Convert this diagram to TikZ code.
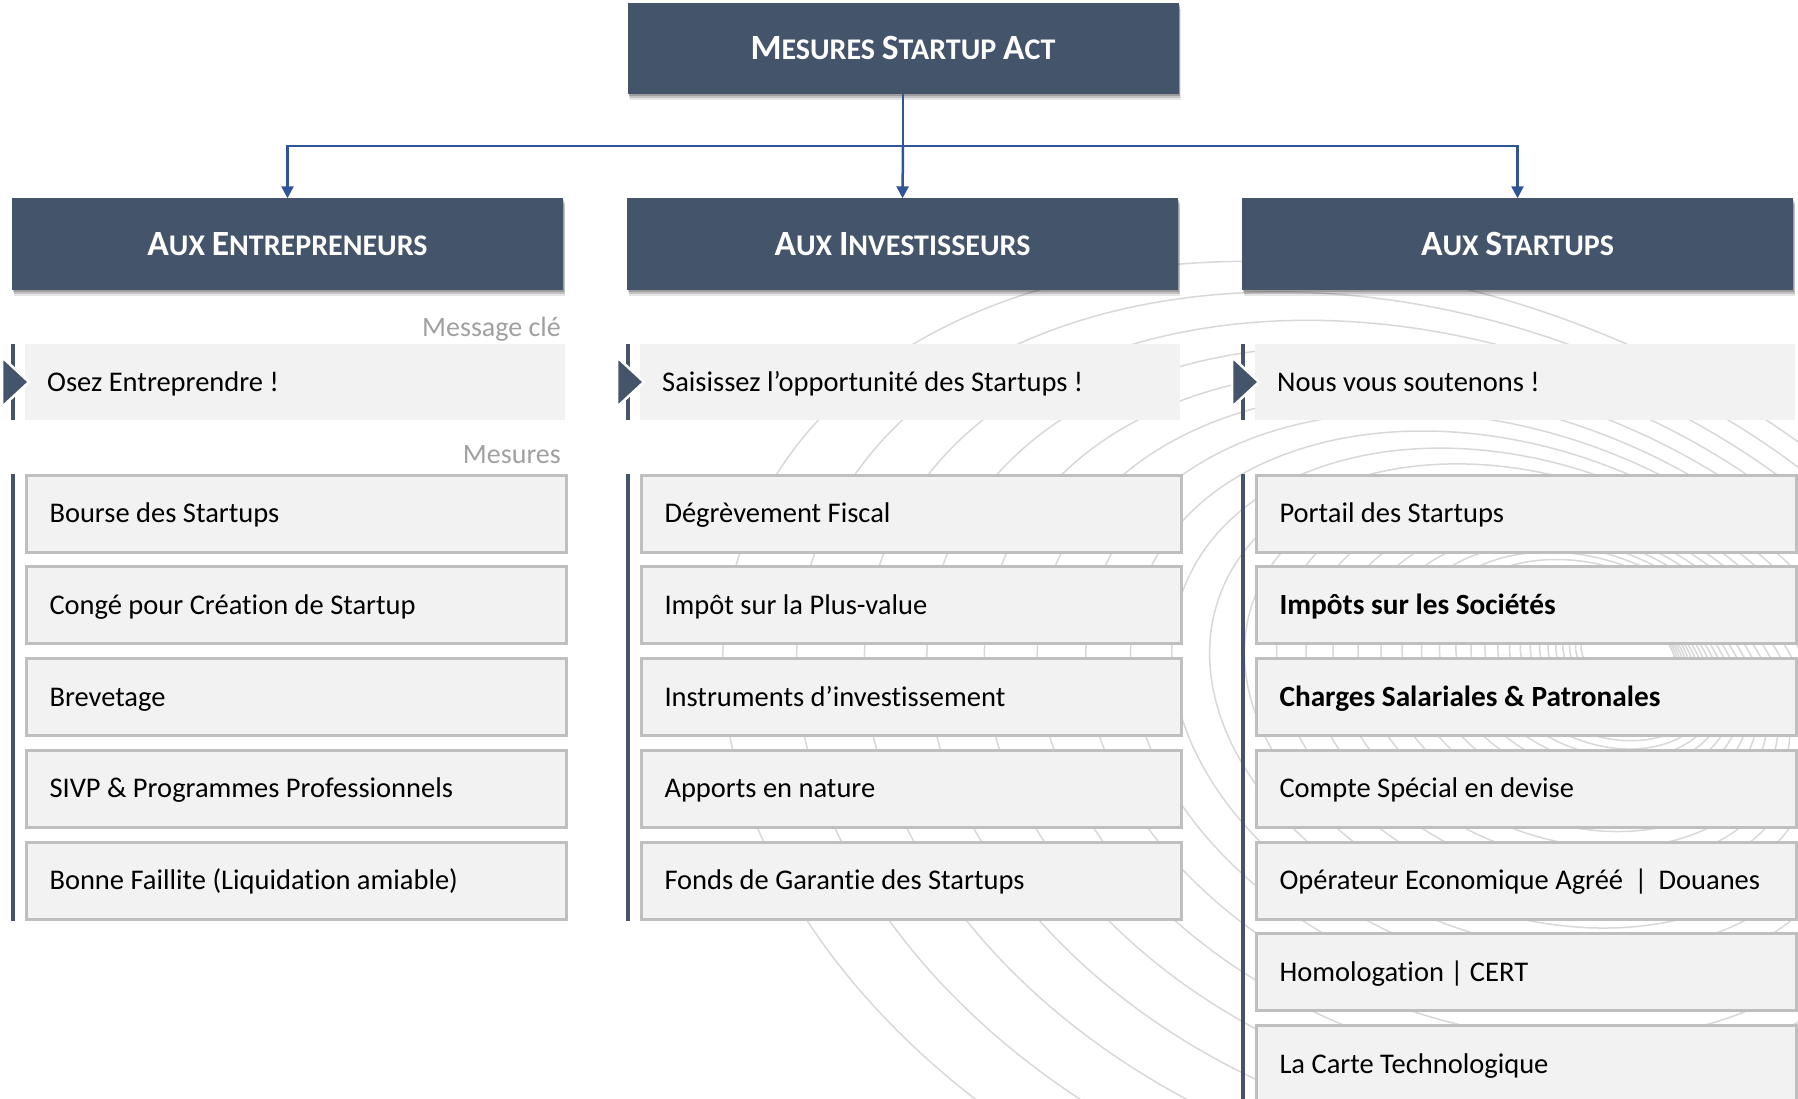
\documentclass[tikz,border=0pt]{standalone}
\usepackage{fontspec}
\setmainfont{Carlito}[Ligatures=NoCommon]
\newfontfamily\hfont{Carlito}[Ligatures=NoCommon]
\usetikzlibrary{arrows.meta,shadows}
\definecolor{hdr}{RGB}{68,84,106}
\definecolor{conn}{RGB}{47,85,151}
\definecolor{boxfill}{RGB}{242,242,242}
\definecolor{boxline}{RGB}{191,191,191}
\definecolor{ringc}{RGB}{216,216,216}
\definecolor{lblgrey}{RGB}{160,160,160}
\newcommand{\fsc}[2]{{\fontsize{35.5}{36}\selectfont #1}{\fontsize{30}{31}\selectfont #2}}
\newcommand{\bodyfont}{\fontsize{28.5}{30}\selectfont}
\newcommand{\bolditem}[1]{{\bfseries\fontsize{29.3}{30}\selectfont #1}}
\begin{document}
\begin{tikzpicture}[x=1pt,y=-1pt,
  hdrbox/.style={fill=hdr, minimum width=551pt, minimum height=91pt, inner sep=0pt,
    text=white, font=\hfont\bfseries\fontsize{30}{31}\selectfont, text height=22.8pt, text depth=0pt,
    drop shadow={shadow xshift=2pt, shadow yshift=-6pt, opacity=0.10, fill=black},
    drop shadow={shadow xshift=1.5pt, shadow yshift=-4pt, opacity=0.15, fill=black},
    drop shadow={shadow xshift=1pt, shadow yshift=-2pt, opacity=0.2, fill=black}},
  msgbox/.style={fill=boxfill, minimum height=76pt, text width=496pt, inner xsep=22pt,
    inner ysep=0pt, align=flush left, anchor=north west, font=\bodyfont,
    text height=18.4pt, text depth=0pt},
  itembox/.style={fill=boxfill, draw=boxline, line width=3pt, minimum height=77pt,
    text width=494pt, inner xsep=23pt, inner ysep=0pt, align=flush left, anchor=north west,
    font=\bodyfont, text height=18.4pt, text depth=0pt},
  bar/.style={hdr, line width=4pt},
  marker/.style={fill=hdr, draw=white, line width=2.5pt, line join=miter},
  link/.style={conn, line width=2.5pt},
  linkarrow/.style={link, -{Triangle[length=12pt,width=12pt]}},
  ring/.style={ringc, line width=1.5pt},
  lbl/.style={text=lblgrey, font=\fontsize{28}{30}\selectfont, inner sep=0pt, anchor=base east}
]
\useasboundingbox (0,0) rectangle (1798,1099);
% background rings (tilted perspective family)
\begin{scope}
\clip (0,0) rectangle (1798,1099);
\foreach \n in {0,...,32}{
  \pgfmathsetmacro\k{0.92^\n}
  \pgfmathsetmacro\cx{1645-247*\k}
  \pgfmathsetmacro\cy{645+134*\k}
  \pgfmathsetmacro\ra{696*\k}
  \pgfmathsetmacro\rb{489*\k}
  \draw[ring, shift={(\cx,\cy)}, rotate=-20] (0,0) ellipse [x radius=\ra, y radius=\rb];
}
\end{scope}
% top and headers
\node[hdrbox] (top) at (903,48.5) {\fsc{M}{ESURES} \fsc{S}{TARTUP} \fsc{A}{CT}};
\node[hdrbox] (h1) at (287.5,244) {\fsc{A}{UX} \fsc{E}{NTREPRENEURS}};
\node[hdrbox] (h2) at (902.5,244) {\fsc{A}{UX} \fsc{I}{NVESTISSEURS}};
\node[hdrbox] (h3) at (1517.5,244) {\fsc{A}{UX} \fsc{S}{TARTUPS}};
\coordinate (j) at (903,146);
\draw[link] (top.south) -- (j);
\draw[linkarrow] (j) -| (h1.north);
\draw[linkarrow] (j) -- (h2.north);
\draw[linkarrow] (j) -| (h3.north);
% labels
\node[lbl] (lmsg) at (561,336.5) {Message clé};
\node[lbl] (lmes) at (561,463) {Mesures};
% message boxes
\node[msgbox] (m1) at (25,344) {Osez Entreprendre !};
\node[msgbox] (m2) at (640,344) {Saisissez l’opportunité des Startups !};
\node[msgbox] (m3) at (1255,344) {Nous vous soutenons !};
\foreach \m in {m1,m2,m3}{
  \draw[bar] ([xshift=-12.5pt]\m.north west) -- ([xshift=-12.5pt]\m.south west);
  \path[marker] ([xshift=-23pt,yshift=-13pt]\m.north west) -- ([xshift=4pt,yshift=-38pt]\m.north west)
     -- ([xshift=-23pt,yshift=-63pt]\m.north west) -- cycle;
}
% column 1
\foreach \t [count=\i from 0] in {Bourse des Startups,Congé pour Création de Startup,Brevetage,SIVP \& Programmes Professionnels,Bonne Faillite (Liquidation amiable)}{
  \node[itembox] (a\i) at (25,473.5+91.75*\i) {\t};
}
% column 2
\foreach \t [count=\i from 0] in {Dégrèvement Fiscal,Impôt sur la Plus-value,Instruments d’investissement,Apports en nature,Fonds de Garantie des Startups}{
  \node[itembox] (b\i) at (640,473.5+91.75*\i) {\t};
}
% column 3
\foreach \t [count=\i from 0] in {Portail des Startups,\bolditem{Impôts sur les Sociétés},\bolditem{Charges Salariales \& Patronales},Compte Spécial en devise,Opérateur Economique Agréé \,|\, Douanes,Homologation | CERT,La Carte Technologique}{
  \node[itembox] (c\i) at (1255,473.5+91.75*\i) {\t};
}
\coordinate (c3end) at (1242.5,1099);
\draw[bar] ([xshift=-12.5pt]a0.north west) -- ([xshift=-12.5pt]a4.south west);
\draw[bar] ([xshift=-12.5pt]b0.north west) -- ([xshift=-12.5pt]b4.south west);
\draw[bar] ([xshift=-12.5pt]c0.north west) -- (c3end);
\end{tikzpicture}
\end{document}
